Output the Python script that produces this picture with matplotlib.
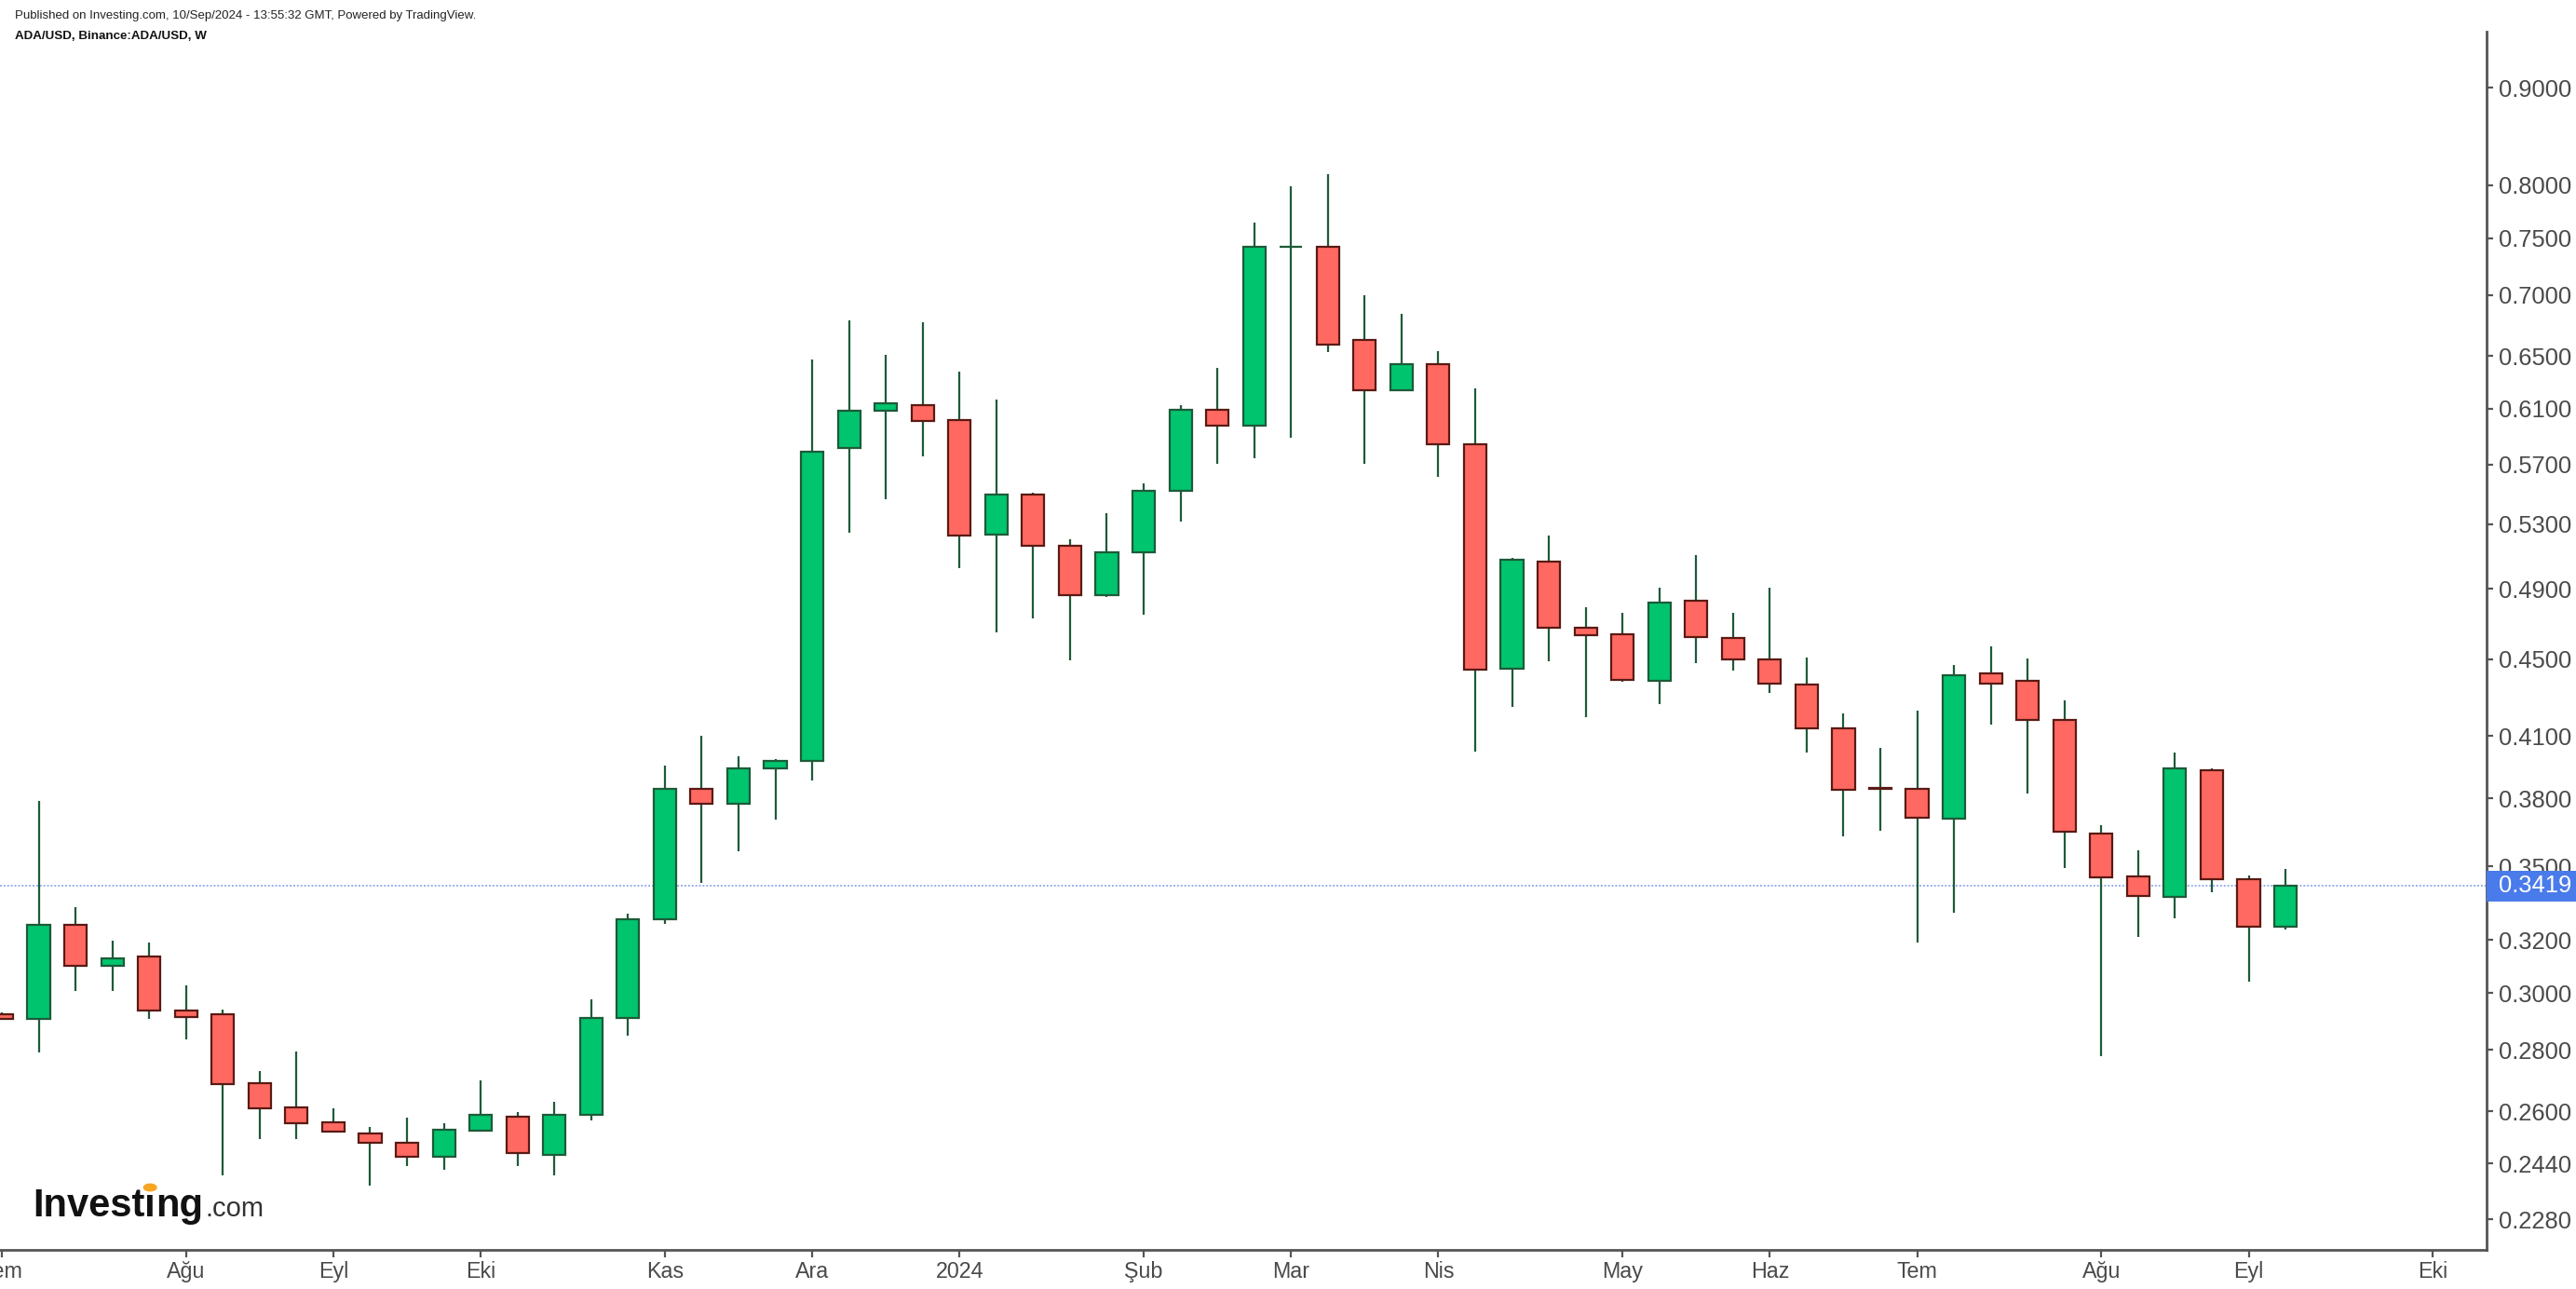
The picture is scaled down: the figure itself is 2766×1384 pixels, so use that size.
import numpy as np
import pandas as pd
import matplotlib
matplotlib.use('Agg')
import matplotlib.pyplot as plt
from matplotlib import font_manager
from matplotlib.patches import Rectangle
from matplotlib.ticker import FixedLocator, NullLocator, FuncFormatter

# weekly ADA/USD candles, week starting 2023-07-03
opens = [0.2924, 0.2909, 0.3260, 0.3100, 0.3137, 0.2939, 0.2925, 0.2690, 0.2613, 0.2565,
         0.2531, 0.2502, 0.2461, 0.2540, 0.2582, 0.2466, 0.2588, 0.2912, 0.3281, 0.3845,
         0.3774, 0.3940, 0.3977, 0.5812, 0.6084, 0.6124, 0.6016, 0.5237, 0.5493, 0.5166,
         0.4863, 0.5121, 0.5519, 0.6093, 0.5972, 0.7420, 0.7420, 0.6627, 0.6233, 0.6435,
         0.5838, 0.4450, 0.5064, 0.4676, 0.4637, 0.4381, 0.4830, 0.4616, 0.4500, 0.4363,
         0.4139, 0.3848, 0.3844, 0.3706, 0.4422, 0.4382, 0.4179, 0.3642, 0.3457, 0.3371,
         0.3933, 0.3447, 0.3251]
highs = [0.2930, 0.3787, 0.3329, 0.3196, 0.3189, 0.3028, 0.2940, 0.2729, 0.2796, 0.2608,
         0.2550, 0.2579, 0.2561, 0.2698, 0.2596, 0.2631, 0.2978, 0.3303, 0.3953, 0.4098,
         0.3998, 0.3988, 0.6470, 0.6790, 0.6510, 0.6770, 0.6381, 0.6169, 0.5508, 0.5204,
         0.5375, 0.5569, 0.6125, 0.6411, 0.7646, 0.7985, 0.8111, 0.7001, 0.6845, 0.6542,
         0.6253, 0.5090, 0.5231, 0.4790, 0.4758, 0.4910, 0.5103, 0.4758, 0.4910, 0.4507,
         0.4211, 0.4042, 0.4229, 0.4466, 0.4568, 0.4504, 0.4278, 0.3677, 0.3570, 0.4016,
         0.3943, 0.3459, 0.3489]
lows = [0.2905, 0.2791, 0.3008, 0.3008, 0.2909, 0.2837, 0.2405, 0.2512, 0.2512, 0.2535,
        0.2374, 0.2433, 0.2421, 0.2540, 0.2433, 0.2406, 0.2571, 0.2849, 0.3264, 0.3428,
        0.3565, 0.3705, 0.3883, 0.5248, 0.5464, 0.5757, 0.5023, 0.4651, 0.4728, 0.4491,
        0.4850, 0.4750, 0.5318, 0.5702, 0.5742, 0.5887, 0.6529, 0.5702, 0.6233, 0.5613,
        0.4020, 0.4248, 0.4486, 0.4194, 0.4377, 0.4260, 0.4477, 0.4436, 0.4317, 0.4017,
        0.3629, 0.3653, 0.3189, 0.3307, 0.4156, 0.3824, 0.3492, 0.2780, 0.3212, 0.3287,
        0.3392, 0.3044, 0.3243]
closes = [0.2909, 0.3260, 0.3100, 0.3130, 0.2937, 0.2916, 0.2688, 0.2610, 0.2563, 0.2535,
          0.2501, 0.2461, 0.2542, 0.2588, 0.2472, 0.2588, 0.2912, 0.3281, 0.3845, 0.3774,
          0.3940, 0.3977, 0.5788, 0.6084, 0.6136, 0.6008, 0.5227, 0.5493, 0.5166, 0.4863,
          0.5121, 0.5519, 0.6093, 0.5972, 0.7420, 0.7420, 0.6593, 0.6233, 0.6435, 0.5838,
          0.4443, 0.5076, 0.4676, 0.4634, 0.4389, 0.4819, 0.4624, 0.4500, 0.4370, 0.4139,
          0.3841, 0.3843, 0.3713, 0.4411, 0.4370, 0.4179, 0.3649, 0.3454, 0.3377, 0.3941,
          0.3447, 0.3251, 0.3419]

last_price = 0.3419
yticks = [0.9, 0.8, 0.75, 0.7, 0.65, 0.61, 0.57, 0.53, 0.49, 0.45, 0.41, 0.38,
          0.35, 0.32, 0.30, 0.28, 0.26, 0.244, 0.228]
tr_months = ['Oca', 'Şub', 'Mar', 'Nis', 'May', 'Haz', 'Tem', 'Ağu', 'Eyl', 'Eki', 'Kas', 'Ara']
axis_dates = pd.date_range('2023-07-03', periods=68, freq='W-MON')

up_fill, up_edge = '#00C46E', '#1D5B38'
dn_fill, dn_edge = '#FF6961', '#5A1A14'
wick_col = '#1D5B38'
axis_col = '#555555'
text_col = '#4a4a4a'
ysize = 9.2

names = {f.name for f in font_manager.fontManager.ttflist}
if 'Liberation Sans Narrow' in names:
    xfont, xsize = 'Liberation Sans Narrow', 9.4
else:
    xfont, xsize = 'Liberation Sans', 8.4

W, H, DPI = 2766, 1384, 200
fig = plt.figure(figsize=(W / DPI, H / DPI), dpi=DPI)
ax = fig.add_axes([0, 1 - 1342 / H, 2670 / W, (1342 - 34) / H])

o = np.array(opens); h = np.array(highs); l = np.array(lows); c = np.array(closes)
x = np.arange(len(o))
up = c >= o

ax.vlines(x, l, h, color=wick_col, lw=0.8, zorder=2)
bottoms = np.minimum(o, c)
heights = np.abs(c - o)
ax.bar(x[up], heights[up], bottom=bottoms[up], width=0.61, color=up_fill,
       edgecolor=up_edge, linewidth=0.8, zorder=3)
ax.bar(x[~up], heights[~up], bottom=bottoms[~up], width=0.61, color=dn_fill,
       edgecolor=dn_edge, linewidth=0.8, zorder=3)

ax.axhline(last_price, color='#7F9BEA', lw=0.7, ls=(0, (1, 1)), alpha=0.8, zorder=1)

ax.set_yscale('log')
ax.set_ylim(0.2197, 0.9637)
ax.set_xlim(-0.05, 67.46)

ax.yaxis.tick_right()
ax.yaxis.set_major_locator(FixedLocator(yticks))
ax.yaxis.set_minor_locator(NullLocator())
ax.yaxis.set_major_formatter(FuncFormatter(lambda v, p: f'{v:.4f}'))
ax.tick_params(axis='y', length=2.5, width=0.8, color=axis_col, pad=2.0,
               labelsize=ysize, labelcolor=text_col)
for t in ax.get_yticklabels():
    t.set_fontfamily('Liberation Sans')

tick_pos, tick_lab = [], []
for i, d in enumerate(axis_dates):
    if i == 0 or d.month != axis_dates[i - 1].month:
        tick_pos.append(i)
        tick_lab.append(str(d.year) if d.month == 1 else tr_months[d.month - 1])
ax.set_xticks(tick_pos)
ax.set_xticklabels(tick_lab, fontfamily=xfont, fontsize=xsize, color=text_col)
ax.xaxis.set_minor_locator(NullLocator())
ax.tick_params(axis='x', length=2.8, width=0.8, color=axis_col, pad=1.5)

for s in ['left', 'top']:
    ax.spines[s].set_visible(False)
for s in ['right', 'bottom']:
    ax.spines[s].set_color(axis_col)
    ax.spines[s].set_linewidth(1.0)

# last price tag over the axis
fig.add_artist(Rectangle((2670 / W, 1 - 968 / H), (W - 2670) / W, 33 / H,
                         transform=fig.transFigure, facecolor='#4A7BEA', edgecolor='none', zorder=5))
fig.text(2683 / W, 1 - 951.5 / H, f'{last_price:.4f}', color='white', fontsize=ysize,
         fontfamily='Liberation Sans', va='center', ha='left', zorder=6)

# header
fig.text(16 / W, 1 - 17 / H, 'Published on Investing.com, 10/Sep/2024 - 13:55:32 GMT, Powered by TradingView.',
         fontsize=4.75, fontfamily='Liberation Sans', color='#222222', va='center')
fig.text(16 / W, 1 - 39 / H, 'ADA/USD, Binance:ADA/USD, W', fontsize=4.8, fontweight='bold',
         fontfamily='Liberation Sans', color='#111111', va='center')

# logo
r = fig.canvas.get_renderer()
lx, ly = 35 / W, 1 - 1306 / H
lsize = 15.0
part1 = fig.text(lx, ly, 'Invest', fontsize=lsize, fontweight='bold', fontfamily='Liberation Sans',
                 color='#111111', va='baseline', zorder=6)
w1 = part1.get_window_extent(r).width / W
part2 = fig.text(lx + w1, ly, 'ı', fontsize=lsize, fontweight='bold', fontfamily='Liberation Sans',
                 color='#111111', va='baseline', zorder=6)
w2 = part2.get_window_extent(r).width / W
part3 = fig.text(lx + w1 + w2, ly, 'ng', fontsize=lsize, fontweight='bold', fontfamily='Liberation Sans',
                 color='#111111', va='baseline', zorder=6)
w3 = part3.get_window_extent(r).width / W
fig.text(lx + w1 + w2 + w3 + 2 / W, ly, '.com', fontsize=10.5, fontfamily='Liberation Sans',
         color='#333333', va='baseline', zorder=6)
fig.add_artist(plt.Circle((lx + w1 + w2 / 2, ly + 31 / H), 0.0022, transform=fig.transFigure,
                          color='#F5A623', zorder=7))

fig.savefig('out.png', dpi=DPI)
